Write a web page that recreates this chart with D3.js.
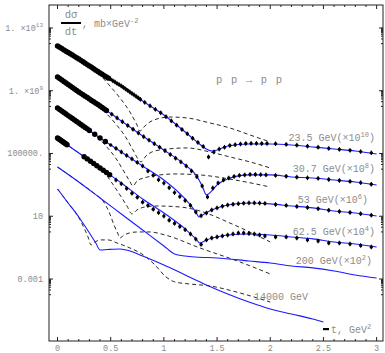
<!DOCTYPE html>
<html>
<head>
<meta charset="utf-8">
<script src="https://cdn.jsdelivr.net/npm/d3@7/dist/d3.min.js"></script>
<style>
body { margin: 0; background: #fff; }
text { font-family: "Liberation Mono", "DejaVu Sans Mono", monospace; fill: #8c8c8c; }
</style>
</head>
<body>
<svg id="chart" width="385" height="353"></svg>
<script>
// energies, labels and the factor each curve is multiplied by
const energies = ["23.5 GeV", "30.7 GeV", "53 GeV", "62.5 GeV", "200 GeV", "14000 GeV"];
const scaleExp = [10, 8, 6, 4, 2, 0];

// model curves (solid blue), [-t in GeV^2, dsigma/dt in mb/GeV^2] before scaling
const fit235 = [[0,71],[0.2,10.6],[0.4,1.36],[0.6,0.20],[0.8,0.0222],[1.0,2.85e-3],[1.2,2.35e-4],[1.3,6.3e-5],[1.4,1.94e-5],[1.45,1.45e-5],[1.5,1.67e-5],[1.6,3.0e-5],[1.8,4.05e-5],[2.0,4.05e-5],[2.2,3.5e-5],[2.4,2.6e-5],[2.6,1.94e-5],[2.8,1.45e-5],[3.0,9.3e-6]];
const fit307 = [[0,75],[0.2,8.3],[0.4,1.07],[0.6,0.118],[0.8,0.0131],[1.0,1.67e-3],[1.2,1.85e-4],[1.3,4.3e-5],[1.36,8.5e-6],[1.4,2.3e-6],[1.45,4.1e-6],[1.5,9.9e-6],[1.6,2.4e-5],[1.8,4.3e-5],[2.0,4.3e-5],[2.2,3.2e-5],[2.4,2.75e-5],[2.6,2.05e-5],[2.8,1.53e-5],[3.0,9.9e-6]];
const fit53 = [[0,80],[0.2,8.8],[0.4,0.975],[0.6,0.125],[0.8,0.016],[1.0,2.05e-3],[1.2,1.26e-4],[1.3,1.87e-5],[1.33,9.0e-6],[1.38,1.4e-5],[1.43,2.17e-5],[1.5,3.4e-5],[1.6,5.2e-5],[1.8,7.0e-5],[2.0,6.1e-5],[2.2,4.5e-5],[2.4,3.4e-5],[2.6,2.17e-5],[2.8,1.62e-5],[3.0,1.04e-5]];
const fit625 = [[0,97],[0.2,10.8],[0.4,1.19],[0.6,0.132],[0.8,0.0126],[1.0,1.62e-3],[1.2,1.55e-4],[1.3,3.6e-5],[1.34,1.98e-5],[1.4,3.1e-5],[1.5,4.8e-5],[1.6,6.4e-5],[1.8,7.4e-5],[2.0,6.4e-5],[2.2,4.8e-5],[2.4,3.6e-5],[2.6,2.3e-5],[2.8,1.71e-5],[3.0,1.1e-5]];
const fit200 = [[0,138],[0.2,15.3],[0.4,1.46],[0.6,0.14],[0.8,0.0134],[1.0,1.28e-3],[1.1,3.9e-4],[1.2,2.9e-4],[1.3,2.5e-4],[1.5,2.2e-4],[1.8,1.41e-4],[2.0,1.05e-4],[2.2,6.8e-5],[2.4,5.1e-5],[2.6,3.25e-5],[2.8,1.81e-5],[3.0,1.16e-5]];
const fit14000 = [[0,548],[0.1,70],[0.2,9.0],[0.3,0.86],[0.36,0.198],[0.4,0.071],[0.47,0.076],[0.59,0.082],[0.68,0.061],[0.8,0.0294],[1.0,7.9e-3],[1.2,1.81e-3],[1.4,4.2e-4],[1.6,1.11e-4],[1.8,3.4e-5],[2.0,1.23e-5],[2.2,5.9e-6],[2.4,2.84e-6],[2.5,1.83e-6]];

// Born-like terms (dashed black)
const born235 = [[0,71],[0.2,10.6],[0.305,3.8],[0.4,1.01],[0.493,0.20],[0.587,0.0346],[0.681,4.4e-3],[0.747,6.6e-4],[0.775,2.7e-4],[0.822,5.7e-4],[0.869,1.02e-3],[0.935,1.58e-3],[1.057,2.1e-3],[1.217,1.84e-3],[1.433,8.8e-4],[1.621,4.2e-4],[1.809,1.51e-4],[2.0,5.4e-5]];
const born307 = [[0,75],[0.2,9.7],[0.352,1.66],[0.446,0.44],[0.54,0.088],[0.634,0.0131],[0.71,1.67e-3],[0.757,4.5e-4],[0.785,2.9e-4],[0.832,7.0e-4],[0.888,1.25e-3],[0.963,1.67e-3],[1.217,2.25e-3],[1.433,1.25e-3],[1.621,6.0e-4],[1.809,2.9e-4],[2.0,1.19e-4]];
const born53 = [[0,80],[0.2,8.8],[0.352,1.51],[0.446,0.35],[0.54,0.060],[0.616,8.9e-3],[0.672,2.05e-3],[0.71,8.5e-4],[0.747,1.77e-3],[0.813,2.75e-3],[0.898,3.7e-3],[1.104,4.95e-3],[1.339,4.3e-3],[1.668,2.05e-3],[2.0,7.3e-4]];
const born625 = [[0,97],[0.2,10.8],[0.352,2.15],[0.428,0.77],[0.512,0.132],[0.587,0.0227],[0.653,4.5e-3],[0.70,1.4e-3],[0.747,2.5e-3],[0.822,3.9e-3],[0.935,4.5e-3],[1.151,3.9e-3],[1.339,2.17e-3],[1.621,3.7e-4],[2.0,2.3e-5]];
const born200 = [[0,138],[0.2,15.3],[0.352,2.6],[0.428,0.94],[0.484,0.19],[0.531,0.028],[0.569,7.4e-3],[0.587,4.1e-3],[0.625,6.4e-3],[0.747,9.95e-3],[0.869,9.95e-3],[1.01,6.4e-3],[1.339,9.5e-4],[1.715,1.22e-4],[2.0,2.1e-5]];
const born14000 = [[0,548],[0.099,70],[0.202,7.8],[0.258,1.34],[0.287,0.48],[0.315,0.148],[0.352,0.23],[0.409,0.31],[0.475,0.31],[0.559,0.198],[0.681,0.095],[0.794,0.039],[0.916,7.9e-3],[1.02,1.35e-3],[1.104,6.5e-4],[1.245,4.8e-4],[1.433,3.6e-4],[1.715,1.29e-4],[2.0,3.4e-5]];

// measured points, [-t, dsigma/dt] before scaling
const data235 = [[0,71],[0.02,59],[0.04,49],[0.06,40],[0.08,33],[0.10,27],[0.12,22.7],[0.14,18.7],[0.16,15.5],[0.18,12.8],[0.20,10.6],[0.22,8.6],[0.24,7.0],[0.26,5.7],[0.28,4.6],[0.30,3.8],[0.32,3.1],[0.34,2.5],[0.36,2.04],[0.38,1.66],[0.40,1.36],[0.42,1.12],[0.44,0.92],[0.46,0.76],[0.48,0.63],[0.50,0.52],[0.52,0.43],[0.54,0.36],[0.56,0.29],[0.58,0.243],[0.60,0.20],[0.62,0.161],[0.64,0.129],[0.66,0.104],[0.68,0.083],[0.70,0.067],[0.72,0.054],[0.74,0.043],[0.76,0.0345],[0.78,0.028],
  [0.82,0.0181],[0.87,0.0108],[0.92,6.5e-3],[0.97,3.9e-3],[1.02,2.2e-3],[1.07,1.19e-3],[1.12,6.4e-4],[1.17,3.4e-4],[1.22,1.81e-4],[1.27,9.3e-5],[1.32,5.0e-5],[1.37,2.8e-5],[1.42,6e-6],[1.47,1.25e-5],[1.52,1.9e-5],[1.57,2.5e-5],[1.62,3.2e-5],[1.67,3.6e-5],[1.72,4.0e-5],[1.77,4.3e-5],[1.82,4.4e-5],[1.87,4.4e-5],[1.92,4.3e-5],[1.97,4.3e-5],
  [2.05,4.2e-5],[2.15,3.8e-5],[2.25,3.4e-5],[2.35,2.9e-5],[2.45,2.5e-5],[2.55,2.1e-5],[2.65,1.82e-5],[2.75,1.58e-5],[2.85,1.32e-5],[2.95,1.1e-5]];
const data307 = [[0,75],[0.02,60],[0.04,48.5],[0.06,39],[0.08,31],[0.10,25],[0.12,20],[0.14,16.1],[0.16,12.9],[0.18,10.4],[0.20,8.3],[0.22,6.8],[0.24,5.5],[0.26,4.5],[0.28,3.7],[0.30,3.0],[0.32,2.4],[0.34,1.98],[0.36,1.61],[0.38,1.31],[0.40,1.07],[0.42,0.86],[0.44,0.69],[0.46,0.55],
  [0.51,0.32],[0.56,0.184],[0.61,0.106],[0.66,0.061],[0.71,0.035],[0.76,0.0203],[0.81,0.0118],[0.86,7.1e-3],[0.91,4.2e-3],[0.96,2.5e-3],[1.01,1.5e-3],[1.06,8.6e-4],[1.11,5.0e-4],[1.16,2.9e-4],[1.21,1.6e-4],[1.26,7.7e-5],[1.31,3.3e-5],[1.36,8.5e-6],[1.41,1.7e-6],[1.46,6.3e-6],[1.51,1.32e-5],[1.56,2.05e-5],[1.61,2.75e-5],[1.66,3.4e-5],[1.71,4.0e-5],[1.76,4.3e-5],[1.81,4.6e-5],[1.86,4.6e-5],[1.91,4.5e-5],[1.96,4.3e-5],
  [2.05,4.0e-5],[2.15,3.5e-5],[2.25,3.1e-5],[2.35,2.8e-5],[2.45,2.6e-5],[2.55,2.2e-5],[2.65,1.9e-5],[2.75,1.66e-5],[2.85,1.38e-5],[2.95,1.1e-5]];
const data53 = [[0,80],[0.02,64],[0.04,51],[0.06,41],[0.08,33],[0.10,26],[0.12,21],[0.14,17],[0.16,13.7],[0.18,11],[0.20,8.8],[0.22,7.1],[0.24,5.7],[0.26,4.5],[0.28,3.7],[0.30,2.9],
  [0.35,1.69],[0.40,0.97],[0.45,0.58],[0.50,0.35],[0.55,0.21],[0.60,0.125],[0.65,0.075],[0.70,0.045],[0.75,0.027],[0.80,0.016],[0.85,7.6e-3],[0.90,4.1e-3],[0.95,2.1e-3],[1.00,1.29e-3],[1.05,6.5e-4],[1.10,3.2e-4],[1.15,1.78e-4],[1.20,1.0e-4],[1.25,4.9e-5],[1.30,1.86e-5],[1.35,1.07e-5],[1.40,1.6e-5],[1.45,2.5e-5],[1.50,3.4e-5],[1.55,4.3e-5],[1.60,5.2e-5],[1.65,5.8e-5],[1.70,6.3e-5],[1.75,6.8e-5],[1.80,7.1e-5],[1.85,7.1e-5],[1.90,6.9e-5],[1.95,6.6e-5],
  [2.05,5.6e-5],[2.15,4.9e-5],[2.25,4.2e-5],[2.35,3.6e-5],[2.45,3.0e-5],[2.55,2.4e-5],[2.65,2.0e-5],[2.75,1.74e-5],[2.85,1.45e-5],[2.95,1.17e-5]];
const data625 = [[0,97],[0.01,87],[0.02,78],[0.03,70],[0.04,63],[0.05,56],[0.06,50],[0.07,45],[0.08,40],[0.09,36],
  [0.25,6.2],[0.28,4.5],[0.31,3.2],[0.34,2.3],[0.37,1.66],[0.40,1.19],[0.43,0.86],[0.46,0.62],[0.49,0.44],
  [0.55,0.204],[0.60,0.117],[0.65,0.059],[0.70,0.029],[0.75,0.0162],[0.80,7.9e-3],[0.85,4.8e-3],[0.90,2.8e-3],[0.95,1.7e-3],[1.00,1.02e-3],[1.05,5.6e-4],[1.10,3.5e-4],[1.15,2.2e-4],[1.20,1.38e-4],[1.25,7.4e-5],[1.30,3.5e-5],[1.35,1.6e-5],[1.40,3.1e-5],[1.45,4.1e-5],[1.50,4.8e-5],[1.55,5.5e-5],[1.60,6.4e-5],[1.65,7.4e-5],[1.70,8.6e-5],[1.75,8.6e-5],[1.80,7.9e-5],[1.85,7.4e-5],[1.90,6.4e-5],[1.95,5.5e-5],
  [2.05,4.8e-5],[2.15,4.8e-5],[2.25,4.1e-5],[2.35,3.1e-5],[2.45,2.65e-5],[2.55,1.98e-5],[2.65,1.98e-5],[2.75,1.71e-5],[2.85,1.38e-5],[2.95,1.1e-5]];

const fits = [fit235, fit307, fit53, fit625, fit200, fit14000];
const borns = [born235, born307, born53, born625, born200, born14000];
const measured = [data235, data307, data53, data625];

const xTicks = [0, 0.5, 1, 1.5, 2, 2.5, 3];
const yTicks = [1e13, 1e9, 1e5, 10, 1e-3];
const yTickLabels = [["1. \u00d710", "13"], ["1. \u00d710", "9"], ["100000.", ""], ["10", ""], ["0.001", ""]];
// label positions: [-t, dsigma/dt * factor] of the right end of each label's baseline
const labelAnchor = [[2.984, 6.3e5], [2.984, 6.6e3], [2.918, 70], [2.984, 0.64], [2.956, 9.1e-3], [2.354, 4.6e-5]];

const svg = d3.select("#chart");
const padL = 49, padR = 383, padT = 5, padB = 341;

const x = d3.scaleLinear().domain([-0.08, 3.06]).range([padL, padR]);
const y = d3.scaleLog().domain([1.12e-7, 2.9e14]).range([padB, padT]);

// frame
svg.append("rect")
  .attr("x", padL).attr("y", padT)
  .attr("width", padR - padL).attr("height", padB - padT)
  .attr("fill", "none").attr("stroke", "#222").attr("stroke-width", 1);

// x ticks, major and minor, bottom and top
const xMinor = d3.range(0, 31).map(d => d / 10);
xMinor.forEach(function(t) {
  const major = Math.abs(t * 2 - Math.round(t * 2)) < 1e-6;
  const len = major ? 4 : 2;
  svg.append("line").attr("x1", x(t)).attr("x2", x(t)).attr("y1", padB).attr("y2", padB - len).attr("stroke", "#222");
  svg.append("line").attr("x1", x(t)).attr("x2", x(t)).attr("y1", padT).attr("y2", padT + len).attr("stroke", "#222");
});
svg.selectAll(".xlab")
  .data(xTicks)
  .enter()
  .append("text")
  .attr("x", d => x(d))
  .attr("y", 351)
  .attr("text-anchor", "middle")
  .attr("font-size", 8.5)
  .text(d => d);

// y ticks with a cluster of minor ticks below each labelled decade
yTicks.forEach(function(v) {
  [padL, padR].forEach(function(edge) {
    const dir = edge === padL ? 1 : -1;
    svg.append("line").attr("x1", edge).attr("x2", edge + dir * 4).attr("y1", y(v)).attr("y2", y(v)).attr("stroke", "#222");
    d3.range(1, 10).forEach(function(k) {
      const m = k * v / 10;
      svg.append("line").attr("x1", edge).attr("x2", edge + dir * 2).attr("y1", y(m)).attr("y2", y(m)).attr("stroke", "#222");
    });
  });
});
yTicks.forEach(function(v, i) {
  const t = svg.append("text")
    .attr("x", 43).attr("y", y(v) + 3)
    .attr("text-anchor", "end")
    .attr("font-size", 8.5);
  t.append("tspan").text(yTickLabels[i][0]);
  if (yTickLabels[i][1]) {
    t.append("tspan").attr("dy", -3.5).attr("font-size", 6).text(yTickLabels[i][1]);
  }
});

const line = d3.line()
  .x(d => x(d[0]))
  .y(d => y(d[1]))
  .curve(d3.curveMonotoneX);

const plot = svg.append("g");

// dashed terms
borns.forEach(function(b, i) {
  const f = Math.pow(10, scaleExp[i]);
  plot.append("path")
    .attr("d", line(b.map(d => [d[0], d[1] * f])))
    .attr("fill", "none")
    .attr("stroke", "#111")
    .attr("stroke-width", 0.9)
    .attr("stroke-dasharray", "4,3");
});

// full model
fits.forEach(function(c, i) {
  const f = Math.pow(10, scaleExp[i]);
  plot.append("path")
    .attr("d", line(c.map(d => [d[0], d[1] * f])))
    .attr("fill", "none")
    .attr("stroke", "#1a1aff")
    .attr("stroke-width", 1.1);
});

// data points with small error bars
measured.forEach(function(ds, i) {
  const f = Math.pow(10, scaleExp[i]);
  const g = plot.append("g");
  g.selectAll("line")
    .data(ds.filter(d => d[0] > 0.5))
    .enter()
    .append("line")
    .attr("x1", d => x(d[0])).attr("x2", d => x(d[0]))
    .attr("y1", d => y(d[1] * f) - 2.3).attr("y2", d => y(d[1] * f) + 2.3)
    .attr("stroke", "#000").attr("stroke-width", 1);
  g.selectAll("circle")
    .data(ds)
    .enter()
    .append("circle")
    .attr("cx", d => x(d[0]))
    .attr("cy", d => y(d[1] * f))
    .attr("r", d => d[0] < 0.5 ? 2.7 : 1.7)
    .attr("fill", "#000");
});

// energy labels
energies.forEach(function(e, i) {
  const t = svg.append("text")
    .attr("x", x(labelAnchor[i][0]))
    .attr("y", y(labelAnchor[i][1]))
    .attr("text-anchor", "end")
    .attr("font-size", 10);
  t.append("tspan").text(e);
  if (scaleExp[i] > 0) {
    t.append("tspan").text("(\u00d710");
    t.append("tspan").attr("dy", -4).attr("font-size", 7).text(scaleExp[i]);
    t.append("tspan").attr("dy", 4).text(")");
  }
});

// process
svg.append("text")
  .attr("x", 216).attr("y", 83)
  .attr("font-size", 10.5)
  .attr("textLength", 66)
  .text("p p \u2192 p p");

// y axis title: d sigma / dt, mb x GeV^-2
svg.append("text").attr("x", 71).attr("y", 18).attr("text-anchor", "middle").attr("font-size", 10.5).text("d\u03c3");
svg.append("line").attr("x1", 61).attr("x2", 81).attr("y1", 23).attr("y2", 23).attr("stroke", "#000").attr("stroke-width", 2);
svg.append("text").attr("x", 71).attr("y", 35).attr("text-anchor", "middle").attr("font-size", 10.5).text("dt");
const yt = svg.append("text").attr("x", 82).attr("y", 27).attr("font-size", 10);
yt.append("tspan").text(", mb\u00d7GeV");
yt.append("tspan").attr("dy", -4).attr("font-size", 7).text("-2");

// x axis title
svg.append("rect").attr("x", 323).attr("y", 328).attr("width", 6).attr("height", 2.2).attr("fill", "#000");
const xt = svg.append("text").attr("x", 331).attr("y", 333).attr("font-size", 10);
xt.append("tspan").text("t, GeV");
xt.append("tspan").attr("dy", -4).attr("font-size", 7).text("2");
</script>
</body>
</html>
